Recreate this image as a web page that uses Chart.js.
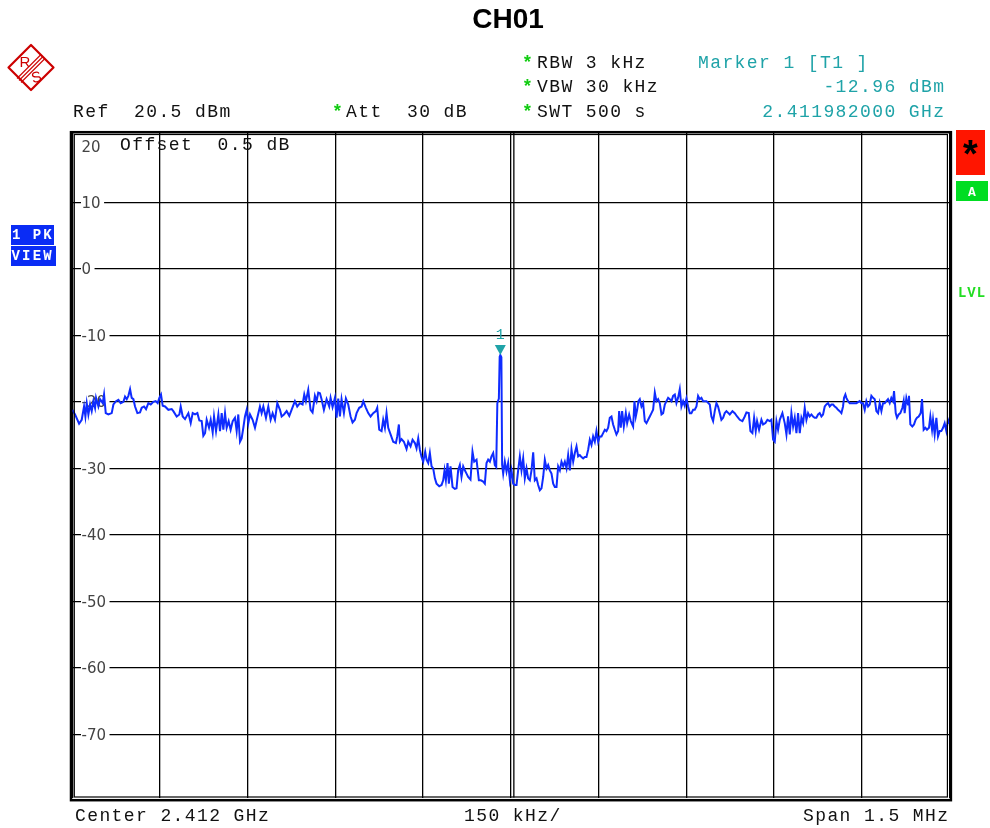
<!DOCTYPE html>
<html><head><meta charset="utf-8">
<script src="https://cdn.jsdelivr.net/npm/chart.js@4.4.1/dist/chart.umd.min.js"></script>
<style>html,body{margin:0;padding:0;background:#fff;}canvas{display:block;}</style>
</head><body>
<canvas id="c" width="990" height="828"></canvas>
<script>
// ---- data (frequency offset from 2.412 GHz centre, kHz / level, dBm) ----
const xGridKHz = [-750,-600,-450,-300,-150,0,150,300,450,600,750];
const yGridDbm = [10,0,-10,-20,-30,-40,-50,-60,-70];
const xRangeKHz = [-750, 750];
const yRangeDbm = [-79.5, 20.5];

const offsetKHz = [
-750, -745.3, -738.4, -733.9, -729.9, -727.6, -725.3, -722.5, -719.6, -716.8,
-713.9, -711.1, -709.4, -705.4, -702.5, -698.0, -695.7, -692.8, -688.3, -682.6,
-679.7, -675.2, -671.2, -667.2, -662.6, -659.8, -656.9, -654.1, -651.2, -648.4,
-645.5, -642.7, -638.7, -634.2, -631.3, -627.3, -623.9, -619.9, -615.9, -611.4,
-607.4, -604.0, -601.1, -598.3, -595.4, -591.4, -585.7, -580.0, -577.2, -571.5,
-566.9, -564.6, -561.2, -557.2, -551.5, -547.5, -544.1, -540.1, -536.1, -532.7,
-528.7, -525.9, -523.0, -520.2, -516.2, -513.3, -509.9, -507.6, -504.2, -500.2,
-497.4, -494.5, -491.7, -488.8, -486.0, -482.6, -479.2, -475.7, -471.8, -468.9,
-466.1, -463.2, -460.4, -457.5, -454.7, -451.8, -449.0, -446.1, -441.6, -437.6,
-433.6, -429.1, -426.2, -423.3, -418.8, -414.8, -410.8, -407.4, -403.4, -399.4,
-394.8, -392.0, -388.0, -383.4, -378.9, -375.0, -369.3, -365.3, -360.7, -356.2,
-353.3, -350.5, -346.5, -342.5, -339.1, -335.1, -332.2, -329.4, -326.5, -323.7,
-319.7, -315.1, -310.6, -308.3, -304.9, -300.9, -298.0, -295.2, -292.3, -289.5,
-285.5, -282.1, -278.1, -274.1, -270.7, -266.7, -263.8, -259.3, -255.3, -252.4,
-247.9, -243.9, -239.9, -235.4, -230.8, -228.5, -225.1, -221.1, -218.3, -215.4,
-212.6, -209.7, -205.7, -201.2, -196.6, -194.3, -191.5, -189.8, -186.9, -182.9,
-178.4, -175.5, -171.5, -168.1, -164.1, -161.3, -158.4, -155.6, -152.7, -149.9,
-146.5, -144.2, -141.3, -138.5, -135.6, -132.8, -129.9, -127.1, -122.5, -118.5,
-115.7, -113.4, -111.1, -108.3, -106.0, -103.2, -99.7, -95.8, -92.9, -90.1,
-87.2, -84.4, -81.5, -78.7, -75.8, -73.0, -69.0, -65.6, -62.7, -58.7,
-54.7, -51.3, -47.3, -44.5, -41.6, -38.8, -35.9, -33.1, -30.2, -27.4,
-25.0, -23.1, -20.5, -19.1, -18.0, -16.2, -14.9, -13.1, -10.3, -7.4,
-4.6, -1.7, 1.1, 4.0, 6.8, 9.7, 12.5, 15.4, 18.2, 21.1,
23.9, 26.8, 29.6, 32.5, 35.3, 38.2, 41.0, 43.9, 46.7, 49.6,
52.4, 55.3, 58.1, 61.0, 63.8, 66.7, 69.5, 72.4, 75.2, 78.1,
80.9, 83.8, 86.6, 89.5, 92.3, 95.2, 98.0, 100.9, 103.7, 106.6,
109.4, 112.3, 115.1, 118.0, 120.8, 123.7, 126.5, 129.3, 132.2, 135.0,
137.9, 140.7, 143.6, 146.4, 149.3, 152.1, 155.0, 157.8, 160.7, 163.5,
166.4, 169.2, 172.1, 174.9, 177.8, 180.6, 183.5, 185.2, 188.0, 190.3,
193.2, 196.6, 198.9, 202.3, 205.1, 209.1, 211.4, 213.7, 216.0, 218.2,
220.5, 223.4, 226.2, 229.1, 231.9, 234.8, 237.6, 240.5, 243.3, 246.2,
249.0, 251.9, 254.7, 257.6, 260.4, 263.3, 266.1, 269.0, 271.8, 274.7,
277.5, 280.4, 283.2, 286.0, 288.9, 291.7, 294.6, 297.4, 300.3, 303.1,
306.0, 308.8, 311.7, 314.5, 317.4, 320.2, 323.1, 325.9, 328.8, 334.5,
340.2, 343.0, 345.9, 348.7, 351.6, 354.4, 357.3, 360.1, 363.0, 365.8,
368.7, 374.4, 379.0, 382.9, 386.9, 391.5, 396.0, 400.0, 402.9, 406.9,
409.7, 413.1, 416.0, 418.8, 421.1, 424.5, 428.5, 431.4, 435.4, 438.8,
442.8, 445.6, 448.5, 451.3, 454.2, 457.0, 459.9, 464.4, 468.4, 471.3,
474.1, 477.0, 479.8, 482.7, 485.5, 488.4, 491.2, 494.1, 496.9, 499.8,
502.6, 505.5, 508.3, 511.1, 514.0, 516.8, 519.7, 522.5, 525.4, 528.2,
531.1, 533.9, 536.8, 539.6, 542.5, 545.3, 548.2, 551.0, 553.9, 556.7,
559.6, 562.4, 565.3, 568.1, 569.8, 572.1, 573.8, 576.7, 579.5, 585.2,
590.9, 596.6, 599.5, 602.3, 605.2, 608.0, 610.9, 613.7, 616.6, 619.4,
622.3, 625.1, 628.0, 630.8, 633.7, 636.5, 639.4, 642.2, 645.0, 647.9,
650.7, 653.6, 655.3, 658.2, 660.4, 663.3, 666.1, 669.6, 671.8, 673.5,
676.4, 679.2, 680.9, 683.2, 686.6, 689.5, 692.3, 694.6, 697.5, 700.9,
703.2, 706.0, 708.9, 711.7, 715.1, 717.4, 720.3, 722.0, 724.8, 727.7,
730.5, 733.4, 736.2, 739.1, 741.9, 744.8, 747.6, 750
];
const levelDbm = [
-21.2, -21.9, -23.3, -22.7, -20.7, -22.2, -20.2, -21.9, -20.4, -21.4,
-19.9, -20.9, -19.4, -20.7, -19.6, -20.2, -18.9, -21.7, -21.9, -21.7,
-20.4, -19.9, -19.7, -20.2, -20.0, -19.2, -19.6, -19.1, -18.1, -19.4,
-19.6, -20.7, -21.7, -21.6, -20.9, -20.7, -21.1, -20.2, -20.4, -20.0,
-19.9, -20.2, -19.4, -18.9, -20.6, -20.7, -21.2, -21.1, -21.4, -22.2,
-21.9, -20.7, -22.2, -22.6, -21.7, -23.2, -21.7, -21.9, -21.7, -22.8,
-22.9, -25.1, -24.7, -22.7, -23.9, -22.7, -24.6, -22.2, -24.4, -21.9,
-24.4, -21.7, -24.2, -21.7, -23.9, -22.9, -24.2, -22.9, -22.4, -24.4,
-21.9, -26.0, -25.5, -23.9, -22.2, -21.2, -23.2, -21.9, -22.7, -23.9,
-22.4, -20.7, -21.7, -20.7, -22.4, -20.7, -22.7, -21.7, -22.7, -20.2,
-21.2, -22.2, -21.9, -21.4, -22.1, -21.2, -19.9, -20.7, -20.2, -20.4,
-18.9, -19.9, -18.2, -21.2, -21.6, -19.1, -19.9, -18.6, -18.7, -19.6,
-21.2, -19.6, -20.7, -19.4, -20.8, -19.4, -22.4, -19.5, -22.2, -19.6,
-21.7, -19.5, -20.4, -22.2, -23.1, -22.7, -21.7, -20.9, -20.7, -19.9,
-20.9, -21.7, -22.2, -21.7, -21.4, -20.9, -24.2, -24.4, -22.7, -23.9,
-21.7, -23.9, -24.9, -26.0, -26.2, -25.2, -23.4, -26.0, -25.6, -26.0,
-27.1, -26.0, -26.7, -25.7, -26.2, -27.0, -25.5, -27.2, -28.3, -29.0,
-27.5, -28.7, -29.2, -27.7, -29.7, -30.0, -31.5, -32.3, -32.7, -32.5,
-31.8, -30.3, -31.8, -29.2, -32.3, -29.7, -32.8, -33.1, -33.0, -30.3,
-29.5, -31.3, -29.7, -30.3, -30.8, -31.3, -31.7, -27.5, -29.0, -28.7,
-31.8, -31.8, -32.0, -32.3, -29.2, -28.7, -29.0, -28.2, -27.7, -29.5,
-29.8, -20.2, -19.5, -13.2, -12.96, -13.3, -29.5, -30.8, -29.0, -30.5,
-29.2, -31.8, -30.3, -32.3, -32.5, -32.5, -30.3, -28.2, -30.3, -28.5,
-31.5, -30.0, -31.5, -31.8, -30.3, -27.6, -31.8, -31.5, -32.5, -33.3,
-33.0, -31.3, -28.7, -30.0, -29.5, -30.3, -30.8, -32.3, -32.8, -32.8,
-29.7, -30.3, -29.0, -29.7, -29.0, -30.0, -28.0, -30.3, -27.2, -29.0,
-27.7, -26.7, -28.2, -28.0, -28.3, -28.5, -28.3, -28.3, -27.2, -25.7,
-26.5, -25.2, -26.0, -24.4, -26.0, -25.2, -25.2, -24.7, -24.2, -24.4,
-23.9, -22.4, -22.2, -23.4, -24.2, -24.9, -24.4, -21.4, -23.9, -21.4,
-23.7, -21.7, -23.2, -21.9, -22.9, -23.7, -19.9, -22.2, -21.2, -19.9,
-19.6, -20.7, -20.2, -22.9, -23.2, -22.7, -22.2, -21.7, -21.2, -18.6,
-19.9, -19.6, -20.2, -21.9, -21.7, -20.4, -19.9, -19.4, -19.6, -19.9,
-19.1, -18.9, -20.2, -19.4, -18.1, -20.7, -19.9, -20.6, -19.5, -20.7,
-21.7, -21.7, -21.2, -21.2, -20.7, -19.1, -19.6, -19.4, -19.9, -19.9,
-20.4, -22.2, -22.9, -21.4, -20.2, -20.7, -21.7, -22.7, -22.4, -21.7,
-21.4, -21.9, -21.4, -21.7, -22.2, -22.7, -22.9, -22.2, -21.6, -21.7,
-24.4, -24.7, -22.4, -24.4, -22.9, -24.2, -22.7, -23.4, -23.2, -22.7,
-22.9, -22.7, -25.7, -26.0, -22.9, -24.2, -22.7, -21.7, -23.2, -24.9,
-22.2, -24.9, -21.7, -23.7, -22.4, -24.7, -21.7, -24.7, -22.4, -23.2,
-20.9, -22.7, -21.7, -22.2, -21.9, -22.2, -22.4, -22.4, -21.9, -21.7,
-22.2, -21.9, -20.7, -20.4, -20.2, -20.7, -20.4, -20.4, -20.7, -20.9,
-21.2, -21.4, -21.7, -20.7, -19.4, -18.9, -19.4, -19.9, -20.2, -20.2,
-20.2, -19.9, -20.2, -20.2, -21.2, -19.9, -20.7, -20.4, -19.1, -19.4,
-19.6, -21.4, -21.7, -20.2, -21.4, -20.2, -20.2, -19.9, -19.6, -20.2,
-19.4, -19.9, -18.4, -21.7, -22.4, -21.9, -21.7, -20.9, -19.9, -21.7,
-19.4, -20.4, -19.1, -23.4, -23.7, -23.4, -22.7, -22.4, -22.2, -21.7,
-19.6, -24.2, -23.9, -24.2, -23.9, -22.2, -24.2, -22.7, -24.9, -22.4,
-25.2, -24.4, -24.4, -23.9, -23.2, -24.4, -22.7, -23.3
];
const markerKHz = -18.0;
const markerDbm = -12.96;

// ---- drawing helpers ----
const MONO = '"Liberation Mono","DejaVu Sans Mono",monospace';
const SANS = '"DejaVu Sans",sans-serif';
const TEAL = '#1fa3a8';
function put(ctx, s, x, y, font, color, align, ls) {
  ctx.save();
  ctx.font = font; ctx.fillStyle = color;
  ctx.textAlign = align || 'left'; ctx.textBaseline = 'alphabetic';
  ls = ls || 0;
  if ('letterSpacing' in ctx) ctx.letterSpacing = ls + 'px';
  ctx.fillText(s, align === 'right' ? x + ls : x, y);
  ctx.restore();
}
const HF = '18px ' + MONO;
const HS = 1.4;

const deco = {
  id: 'deco',
  beforeDraw(chart) {
    const ctx = chart.ctx;
    ctx.save(); ctx.fillStyle = '#fff'; ctx.fillRect(0, 0, chart.width, chart.height); ctx.restore();
  },
  beforeDatasetsDraw(chart) {
    const ctx = chart.ctx, xs = chart.scales.x, ys = chart.scales.y, a = chart.chartArea;
    // second line of the centre double line
    const cx = xs.getPixelForValue(0);
    ctx.save(); ctx.strokeStyle = '#000'; ctx.lineWidth = 1.3;
    ctx.beginPath(); ctx.moveTo(cx + 3, a.top); ctx.lineTo(cx + 3, a.bottom); ctx.stroke(); ctx.restore();
    // level labels inside the grid
    ctx.save();
    ctx.font = '15px ' + SANS;
    yGridDbm.forEach(v => {
      const py = ys.getPixelForValue(v);
      const s = v < 0 ? '-' + Math.abs(v) : String(v);
      const w = ctx.measureText(s).width;
      ctx.fillStyle = '#fff';
      ctx.fillRect(81, py - 2, w + 4, 4);
      ctx.fillStyle = '#444';
      ctx.fillText(s, 81.5, py + 5.5);
    });
    ctx.fillStyle = '#444';
    ctx.fillText('20', 81.5, 151.5);
    ctx.restore();
  },
  afterDraw(chart) {
    const ctx = chart.ctx, xs = chart.scales.x, ys = chart.scales.y, a = chart.chartArea;
    // frame (double line)
    ctx.save(); ctx.strokeStyle = '#000';
    ctx.lineWidth = 2.5; ctx.strokeRect(a.left - 1.3, a.top - 0.3, a.right - a.left + 2.8, a.bottom - a.top + 3);
    ctx.lineWidth = 1.2; ctx.strokeRect(a.left + 2, a.top + 2, a.right - a.left - 4, a.bottom - a.top - 2.5);
    ctx.restore();
    // marker
    const mx = xs.getPixelForValue(markerKHz), my = ys.getPixelForValue(markerDbm);
    ctx.save(); ctx.fillStyle = TEAL;
    ctx.beginPath(); ctx.moveTo(mx - 5.5, my - 10); ctx.lineTo(mx + 5.5, my - 10); ctx.lineTo(mx, my); ctx.closePath(); ctx.fill();
    ctx.restore();
    put(ctx, '1', mx, my - 16.5, '15px ' + MONO, TEAL, 'center');
    // title
    put(ctx, 'CH01', 508, 28, 'bold 28px "Liberation Sans",Arial,sans-serif', '#000', 'center');
    // header
    put(ctx, 'Ref  20.5 dBm', 73, 117, HF, '#111', 'left', HS);
    put(ctx, '*', 332, 117, 'bold ' + HF, '#11cc11');
    put(ctx, 'Att  30 dB', 346, 117, HF, '#111', 'left', HS);
    put(ctx, '*', 522, 68, 'bold ' + HF, '#11cc11');
    put(ctx, 'RBW 3 kHz', 537, 68, HF, '#111', 'left', HS);
    put(ctx, '*', 522, 92, 'bold ' + HF, '#11cc11');
    put(ctx, 'VBW 30 kHz', 537, 92, HF, '#111', 'left', HS);
    put(ctx, '*', 522, 117, 'bold ' + HF, '#11cc11');
    put(ctx, 'SWT 500 s', 537, 117, HF, '#111', 'left', HS);
    put(ctx, 'Marker 1 [T1 ]', 698, 68, HF, TEAL, 'left', HS);
    put(ctx, '-12.96 dBm', 944, 92, HF, TEAL, 'right', HS);
    put(ctx, '2.411982000 GHz', 944, 117, HF, TEAL, 'right', HS);
    put(ctx, 'Offset  0.5 dB', 120, 150, HF, '#111', 'left', HS);
    // footer
    put(ctx, 'Center 2.412 GHz', 75, 821, HF, '#111', 'left', HS);
    put(ctx, '150 kHz/', 464, 821, HF, '#111', 'left', HS);
    put(ctx, 'Span 1.5 MHz', 948, 821, HF, '#111', 'right', HS);
    // left trace boxes
    ctx.save();
    ctx.fillStyle = '#0a2cf5';
    ctx.fillRect(11, 225, 43, 20);
    ctx.fillRect(11, 246, 45, 20);
    ctx.restore();
    put(ctx, '1 PK', 12, 238.5, 'bold 14px ' + MONO, '#fff', 'left', 2);
    put(ctx, 'VIEW', 11.5, 260, 'bold 14px ' + MONO, '#fff', 'left', 2.2);
    // right status boxes
    ctx.save();
    ctx.fillStyle = '#ff1500'; ctx.fillRect(956, 130, 29, 45);
    ctx.fillStyle = '#00dd22'; ctx.fillRect(956, 181, 32, 20);
    ctx.restore();
    put(ctx, '*', 970.5, 168, 'bold 38px ' + MONO, '#000', 'center');
    put(ctx, 'A', 972, 196, 'bold 13px ' + MONO, '#fff', 'center');
    put(ctx, 'LVL', 972, 297, 'bold 14px ' + MONO, '#22dd22', 'center', 1);
    // R&S logo
    ctx.save();
    ctx.strokeStyle = '#cc0000'; ctx.fillStyle = '#cc0000'; ctx.lineJoin = 'round';
    ctx.lineWidth = 2.2;
    ctx.beginPath(); ctx.moveTo(31, 45); ctx.lineTo(53.5, 67.5); ctx.lineTo(31, 90); ctx.lineTo(8.5, 67.5); ctx.closePath(); ctx.stroke();
    ctx.lineWidth = 1.1;
    [-2, 0, 2].forEach(o => {
      ctx.beginPath(); ctx.moveTo(43 + o, 56.5 + o); ctx.lineTo(19 + o, 80.5 + o); ctx.stroke();
    });
    ctx.font = '15px "Liberation Sans",Arial,sans-serif';
    ctx.textAlign = 'center';
    ctx.fillText('R', 25, 67);
    ctx.save(); ctx.translate(37.5, 82); ctx.rotate(-0.25); ctx.fillText('S', 0, 0); ctx.restore();
    ctx.restore();
  }
};

new Chart(document.getElementById('c'), {
  type: 'line',
  data: {
    datasets: [{
      data: offsetKHz.map((f, i) => ({ x: f, y: levelDbm[i] })),
      borderColor: '#0f2cff', borderWidth: 2, pointRadius: 0, tension: 0, fill: false
    }]
  },
  options: {
    responsive: false, animation: false, events: [],
    layout: { padding: { left: 72.3, right: 40.6, top: 132.5, bottom: 30.5 } },
    plugins: { legend: { display: false }, tooltip: { enabled: false }, title: { display: false } },
    scales: {
      x: {
        type: 'linear', min: xRangeKHz[0], max: xRangeKHz[1],
        afterBuildTicks: s => { s.ticks = xGridKHz.map(v => ({ value: v })); },
        afterFit: s => { s.height = 0; },
        ticks: { display: false }, border: { display: false },
        grid: { color: '#000', lineWidth: 1.3, drawTicks: false }
      },
      y: {
        type: 'linear', min: yRangeDbm[0], max: yRangeDbm[1],
        afterBuildTicks: s => { s.ticks = yGridDbm.map(v => ({ value: v })); },
        afterFit: s => { s.width = 0; },
        ticks: { display: false }, border: { display: false },
        grid: { color: '#000', lineWidth: 1.3, drawTicks: false }
      }
    }
  },
  plugins: [deco]
});
</script>
</body></html>
